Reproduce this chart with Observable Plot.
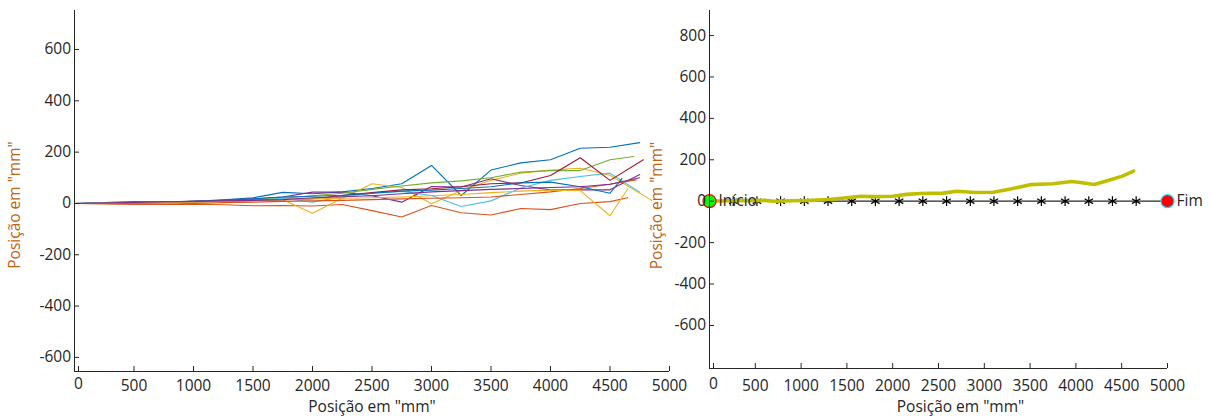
<!DOCTYPE html>
<html><head><meta charset="utf-8">
<script src="https://cdn.jsdelivr.net/npm/d3@7"></script>
<script src="https://cdn.jsdelivr.net/npm/@observablehq/plot@0.6"></script>
<style>
body{margin:0;background:#fff;}
#wrap{position:relative;width:1211px;height:416px;overflow:hidden;background:#fff;}
#wrap svg{position:absolute;top:0;background:transparent;overflow:visible;}
</style></head><body><div id="wrap"></div>
<script>
// ---------- data ----------
const xs = [0,250,500,750,1000,1250,1500,1750,2000,2250,2500,2750,3000,3250,3500,3750,4000,4250,4500];
const xEnd = [4750,4650,4850,4750,4700,4750,4780,4600,4720,4650,4750];
const s1  = [0,3,6,4,8,14,22,43,38,45,58,77,148,31,130,158,170,215,219,237];
const s2  = [0,0,-3,-4,-3,-5,-9,-8,-10,-4,-28,-53,-8,-36,-45,-20,-24,0,7,22];
const s3  = [0,0,2,4,8,10,12,14,-38,20,77,62,-1,50,90,118,130,137,110,12];
const s4  = [0,2,4,6,8,12,18,25,44,44,30,5,66,64,96,70,53,53,53,113];
const s5  = [0,1,2,3,6,10,14,20,30,40,55,68,80,88,100,122,128,128,170,183];
const s6  = [0,0,2,3,5,8,10,20,5,25,40,47,31,-12,10,60,90,105,118,44];
const s7  = [0,0,2,4,6,8,12,15,18,31,42,53,57,65,77,80,109,178,90,170];
const s8  = [0,3,5,5,8,12,18,25,28,32,40,48,52,58,65,80,83,65,40,97];
const s9  = [0,-2,-3,-2,0,3,5,8,10,12,15,18,20,22,25,35,45,58,75,92];
const s10 = [0,2,3,4,5,8,10,15,18,20,22,25,30,35,42,48,52,50,-48,57];
const s11 = [0,2,4,6,8,10,12,15,22,26,30,38,45,50,55,58,62,65,75,100];
const seriesList = [s1,s2,s3,s4,s5,s6,s7,s8,s9,s10,s11];
const colors = ["#0072BD","#D95319","#EDB120","#7E2F8E","#77AC30","#4DBEEE","#A2142F","#0072BD","#D95319","#EDB120","#7E2F8E"];

const pathX = [0,200,400,600,700,900,1100,1300,1500,1650,1800,2000,2150,2300,2550,2700,2900,3100,3300,3500,3750,3950,4050,4200,4350,4500,4630];
const pathY = [0,2,3,4,0,2,4,8,17,24,22,24,33,37,39,48,42,43,60,80,84,95,90,81,100,120,145];
const refX = [0,259,518,776,1035,1294,1553,1811,2070,2329,2588,2847,3105,3364,3623,3882,4141,4399,4658];
const refLineX = [0,5000];
const endpoints = [{x:0,y:0,label:"Início",fill:"#00FF00",stroke:"#FF0000"},{x:5000,y:0,label:"Fim",fill:"#FF0000",stroke:"#00E5FF"}];

const xTicks = [0,500,1000,1500,2000,2500,3000,3500,4000,4500,5000];
const yTicksLeft = [-600,-400,-200,0,200,400,600];
const yTicksRight = [-600,-400,-200,0,200,400,600,800];
const xDomain = [0,5000];
const yDomainLeft = [-655,752];
const yDomainRight = [-808,921];
const axisLabel = "Posição em \"mm\"";

// ---------- build ----------
const ink = "#262626";
const labelOrange = "#C0630F";
const FS = 15.5;
const font = {fontFamily:"'Open Sans', sans-serif", fontSize: FS + "px", color:ink, background:"transparent"};
const fmt = d => String(d);

const leftRows = [];
seriesList.forEach((s,i) => s.forEach((v,j) => leftRows.push({x: j < xs.length ? xs[j] : xEnd[i], y: v, k: i})));

function axes(yTicks, yDomain, xPad, xLabelDx, xLabelDy, yLabelDx, yLabelDy){
  return [
    Plot.ruleX([xDomain[0]], {stroke: ink, strokeWidth: 1}),
    Plot.ruleY([yDomain[0]], {stroke: ink, strokeWidth: 1}),
    Plot.axisX({ticks: xTicks.filter(d=>d!==0), tickSize: -5, tickPadding: xPad, tickFormat: fmt, label: null, stroke: ink, fill: ink, fontSize: FS}),
    Plot.axisX({ticks: [0], tickSize: -5, tickPadding: xPad - 2, tickFormat: fmt, label: null, dx: 4, stroke: ink, fill: ink, fontSize: FS}),
    Plot.axisY({ticks: yTicks, tickSize: -5, tickPadding: 8.5, tickFormat: fmt, label: null, stroke: ink, fill: ink, fontSize: FS}),
    Plot.text([axisLabel], {frameAnchor: "bottom", textAnchor: "middle", lineAnchor: "middle", dx: xLabelDx, dy: xLabelDy, fill: ink, fontSize: FS}),
    Plot.text([axisLabel], {frameAnchor: "left", textAnchor: "middle", lineAnchor: "middle", rotate: -90, dx: yLabelDx, dy: yLabelDy, fill: labelOrange, fontSize: FS})
  ];
}

const left = Plot.plot({
  width: 700, height: 416,
  marginLeft: 74, marginRight: 31, marginTop: 10, marginBottom: 45,
  x: {domain: xDomain, axis: null},
  y: {domain: yDomainLeft, axis: null},
  color: {type: "ordinal", domain: d3.range(seriesList.length), range: colors},
  style: font,
  marks: [
    Plot.line(leftRows, {x: "x", y: "y", z: "k", stroke: "k", strokeWidth: 1.1}),
    ...axes(yTicksLeft, yDomainLeft, 13.5, 0, 36, -59, 14)
  ]
});

const right = Plot.plot({
  width: 571, height: 416,
  marginLeft: 69, marginRight: 44, marginTop: 10, marginBottom: 48,
  x: {domain: xDomain, axis: null},
  y: {domain: yDomainRight, axis: null},
  style: font,
  marks: [
    Plot.line(refLineX, {x: d=>d, y: () => 0, stroke: ink, strokeWidth: 1.3}),
    Plot.dot(refX, {x: d=>d, y: () => 0, symbol: "asterisk", r: 4.6, stroke: "#000", strokeWidth: 1.2}),
    Plot.line(pathX.map((x,i)=>({x, y: pathY[i]})), {x: "x", y: "y", stroke: "#BFBF00", strokeWidth: 3.6}),
    Plot.dot(endpoints, {x: "x", y: "y", r: 6.5, fill: "fill", stroke: "stroke", strokeWidth: 1.2}),
    Plot.text(endpoints, {x: "x", y: "y", text: "label", textAnchor: "start", dx: 9, fill: ink, fontSize: FS}),
    ...axes(yTicksRight, yDomainRight, 16.5, 22, 39, -52, 16)
  ]
});

const wrap = document.getElementById("wrap");
left.style.left = "0px";
right.style.left = "640px";
wrap.appendChild(left);
wrap.appendChild(right);
</script></body></html>
